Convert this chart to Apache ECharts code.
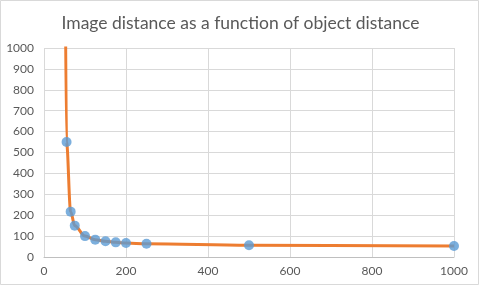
<!DOCTYPE html>
<html><head><meta charset="utf-8">
<script src="https://cdn.jsdelivr.net/npm/echarts@6/dist/echarts.min.js"></script>
<style>html,body{margin:0;padding:0;background:#fff}#c{width:481px;height:288px}</style>
</head><body><div id="c"></div>
<script>
// Measured points (object distance, image distance)
var objectDist = [55, 65, 75, 100, 125, 150, 175, 200, 250, 500, 1000];
var imageDist  = [550, 217, 150, 100, 83, 75, 70, 67, 63, 56, 53];
// Curve (smoothed line) points, including the off-chart start above 1000
var curveX = [52, 55, 65, 75, 100, 125, 150, 175, 200, 250, 500, 1000];
var curveY = [1300, 550, 217, 150, 100, 83, 75, 70, 67, 63, 56, 53];
var xTicks = [0, 200, 400, 600, 800, 1000];
var yTicks = [0, 100, 200, 300, 400, 500, 600, 700, 800, 900, 1000];
var titleText = 'Image distance as a function of object distance';

var chart = echarts.init(document.getElementById('c'), null, {renderer: 'canvas'});
var font = 'Lato, "Open Sans", sans-serif';
function plain(v) { return String(v); }
chart.setOption({
  animation: false,
  backgroundColor: '#fff',
  graphic: [{type: 'rect', shape: {x: 0.5, y: 0.5, width: 478, height: 284}, style: {fill: 'none', stroke: '#d9d9d9', lineWidth: 1}, z: -1}],
  title: {text: titleText, left: 'center', top: 9,
    textStyle: {fontFamily: font, fontSize: 17.5, fontWeight: 'normal', color: '#595959'}},
  grid: {left: 44, right: 27, top: 48, bottom: 31, containLabel: false},
  xAxis: {type: 'value', min: xTicks[0], max: xTicks[xTicks.length - 1], interval: 200,
    axisLine: {show: true, lineStyle: {color: '#bfbfbf'}}, axisTick: {show: false},
    axisLabel: {fontFamily: font, fontSize: 12, color: '#595959', margin: 8, formatter: plain},
    splitLine: {show: true, lineStyle: {color: '#d9d9d9'}}},
  yAxis: {type: 'value', min: yTicks[0], max: yTicks[yTicks.length - 1], interval: 100,
    axisLine: {show: false}, axisTick: {show: false},
    axisLabel: {fontFamily: font, fontSize: 12, color: '#595959', margin: 10, formatter: plain},
    splitLine: {show: true, lineStyle: {color: '#d9d9d9'}}},
  series: [
    {type: 'line', data: curveX.map(function (x, i) { return [x, curveY[i]]; }),
      smooth: 0.35, smoothMonotone: 'x', showSymbol: false, symbol: 'none', clip: true,
      lineStyle: {color: '#ED7D31', width: 3}, z: 2},
    {type: 'scatter', data: objectDist.map(function (x, i) { return [x, imageDist[i]]; }),
      symbol: 'circle', symbolSize: 10, itemStyle: {color: '#5B9BD5'}, z: 3}
  ]
});
</script></body></html>
